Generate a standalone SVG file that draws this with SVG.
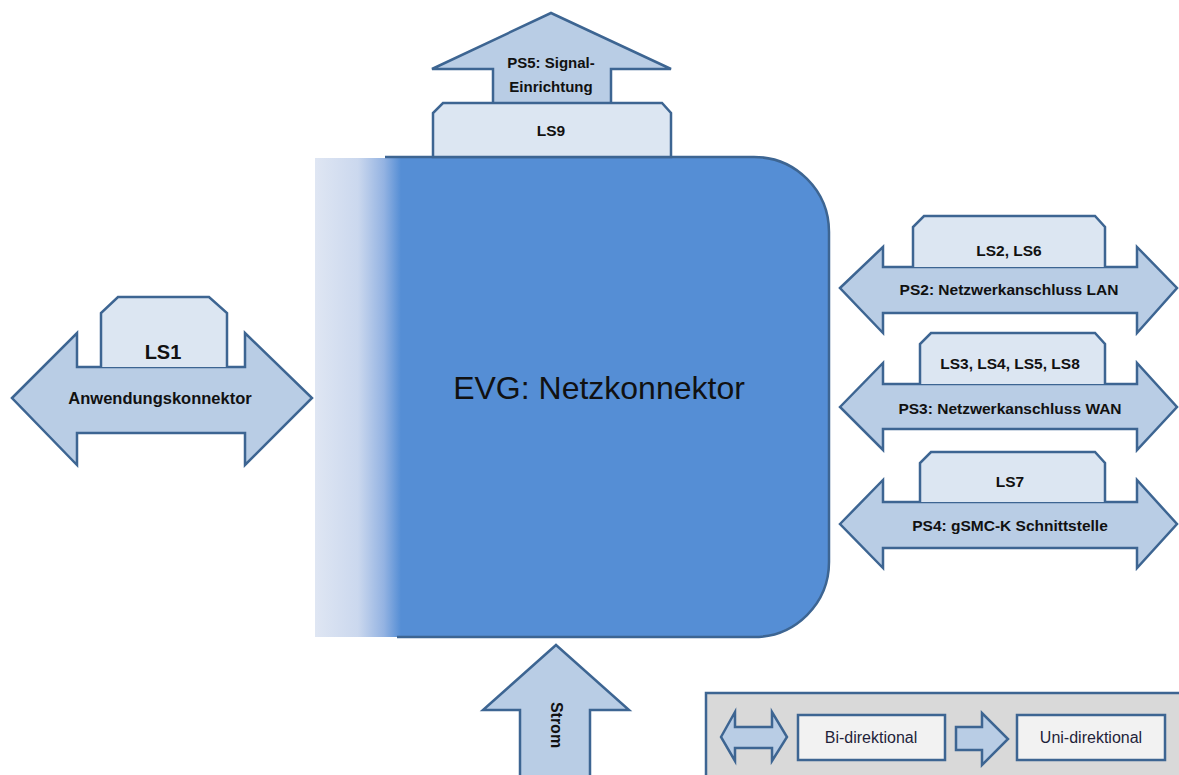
<svg xmlns="http://www.w3.org/2000/svg" width="1179" height="775" viewBox="0 0 1179 775">
<style>
.arrow{fill:#b9cde5;stroke:#3d6592;stroke-width:2.5;stroke-linejoin:miter}
.tab{fill:#dce6f2;stroke:#3d6592;stroke-width:2.5}
.lbl{font-family:"Liberation Sans",Arial,sans-serif;font-weight:bold;font-size:15.5px;fill:#111;text-anchor:middle}
.leg{font-family:"Liberation Sans",Arial,sans-serif;font-size:16px;fill:#1f1f3a;text-anchor:middle}
.legbox{fill:#f2f2f2;stroke:#3d6592;stroke-width:2.5}
</style>
<defs>
<linearGradient id="fade" x1="0" y1="0" x2="1" y2="0">
<stop offset="0" stop-color="#dfe6f3"/>
<stop offset="0.5" stop-color="#cbd8ee"/>
<stop offset="0.8" stop-color="#94b3e2"/>
<stop offset="1" stop-color="#558ed5"/>
</linearGradient>
</defs>
<rect width="1179" height="775" fill="#fff"/>

<g id="evg">
<path d="M385 157 H754 A75 75 0 0 1 829 232 V562 A75 75 0 0 1 754 637 H385 Z" fill="#558ed5"/>
<rect x="315" y="158" width="86" height="479" fill="url(#fade)"/>
<path d="M385 157 H754 A75 75 0 0 1 829 232 V562 A75 75 0 0 1 754 637 H397" fill="none" stroke="#3d6592" stroke-width="2.5"/>
<text x="599" y="399" font-family="'Liberation Sans',Arial,sans-serif" font-size="32" fill="#111" text-anchor="middle">EVG: Netzkonnektor</text>
</g>

<g id="ps5">
<path class="arrow" d="M551 13 L671 69 H611 V104 H493 V69 H432 Z"/>
<text class="lbl" x="551" y="68" style="font-size:15px">PS5: Signal-</text>
<text class="lbl" x="551" y="92" style="font-size:15px">Einrichtung</text>
</g>
<g id="ls9">
<path class="tab" d="M433 157 V113 L443 103 H662 L671 113 V157 Z"/>
<text class="lbl" x="551" y="136">LS9</text>
</g>

<g id="ps1">
<path class="arrow" d="M12 398 L77 333 V367 H245 V333 L312 398 L245 465 V433 H77 V465 Z"/>
<text class="lbl" x="160" y="404" style="font-size:16.5px">Anwendungskonnektor</text>
</g>
<g id="ls1">
<path class="tab" d="M101 367 V313 L118 297 H209 L227 313 V367"/>
<text class="lbl" x="163" y="359" style="font-size:20px">LS1</text>
</g>

<g id="ps2">
<path class="arrow" d="M840 288 L883 247 V267 H1137 V247 L1177 288 L1137 333 V313 H883 V333 Z"/>
<text class="lbl" x="1009" y="295">PS2: Netzwerkanschluss LAN</text>
</g>
<g id="ls2">
<path class="tab" d="M913 267 V227 L924 216 H1095 L1105 227 V267"/>
<text class="lbl" x="1009" y="256">LS2, LS6</text>
</g>

<g id="ps3">
<path class="arrow" d="M840 407 L883 363 V384 H1137 V363 L1177 407 L1137 450 V429 H883 V450 Z"/>
<text class="lbl" x="1010" y="414">PS3: Netzwerkanschluss WAN</text>
</g>
<g id="ls3">
<path class="tab" d="M920 384 V344 L931 333 H1095 L1105 344 V384"/>
<text class="lbl" x="1010" y="369">LS3, LS4, LS5, LS8</text>
</g>

<g id="ps4">
<path class="arrow" d="M840 524 L883 480 V502 H1137 V480 L1177 524 L1137 568 V548 H883 V568 Z"/>
<text class="lbl" x="1010" y="531">PS4: gSMC-K Schnittstelle</text>
</g>
<g id="ls7">
<path class="tab" d="M920 502 V463 L931 452 H1095 L1105 463 V502"/>
<text class="lbl" x="1010" y="487">LS7</text>
</g>

<g id="strom">
<path class="arrow" d="M556 645 L629 710 H590 V778 H520 V710 H483 Z"/>
<text class="lbl" x="0" y="0" transform="translate(551 725) rotate(90)" style="font-size:16px">Strom</text>
</g>

<g id="legend">
<rect x="706" y="693" width="480" height="90" fill="#d9d9d9" stroke="#3d6592" stroke-width="2.5"/>
<path class="arrow" d="M721 737 L735 712 V727 H772 V712 L787 737 L772 761 V748 H735 V761 Z"/>
<rect class="legbox" x="798" y="715" width="147" height="45"/>
<text class="leg" x="871" y="743">Bi-direktional</text>
<path class="arrow" d="M956 727 H982 V713 L1008 739 L982 765 V750 H956 Z"/>
<rect class="legbox" x="1017" y="715" width="148" height="45"/>
<text class="leg" x="1091" y="743">Uni-direktional</text>
</g>

<g id="connectors"/>
</svg>
